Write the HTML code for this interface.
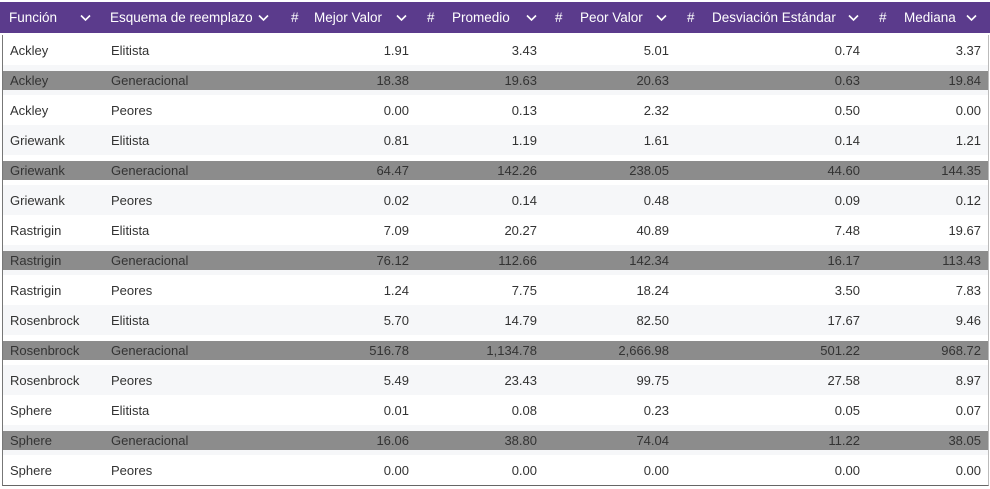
<!DOCTYPE html>
<html><head><meta charset="utf-8">
<style>
body{margin:0;width:990px;height:489px;background:#fff;font-family:"Liberation Sans",sans-serif;overflow:hidden;position:relative}
.hdr{position:absolute;left:0;top:2px;width:990px;height:31px;background:#5b3b8c;color:#fff;font-size:13.5px}
.hdr span{position:absolute;top:8px;white-space:nowrap}
.hdr svg{position:absolute;top:12px;width:11px;height:8px}
.tbl{position:absolute;left:2px;top:35px;width:985px;height:450px;border-left:1px solid #777;border-right:1px solid #bbb;border-bottom:1px solid #666}
.row{position:absolute;left:0;width:985px;height:30px;font-size:13px;color:#333}
.row.alt{background:#f6f7f9}
.band{position:absolute;left:0;width:985px;top:6px;height:19px;background:#8c8c8c}
.row span{position:absolute;top:8px;white-space:nowrap}
.r{text-align:right}
</style></head><body>
<div class="hdr">
<span style="left:9px">Función</span><svg style="left:80px" viewBox="0 0 11 8"><path d="M1 1.5L5.5 6L10 1.5" stroke="#fff" stroke-width="1.6" fill="none"/></svg>
<span style="left:110px">Esquema de reemplazo</span><svg style="left:258px" viewBox="0 0 11 8"><path d="M1 1.5L5.5 6L10 1.5" stroke="#fff" stroke-width="1.6" fill="none"/></svg>
<span style="left:291px">#</span><span style="left:314px">Mejor Valor</span><svg style="left:396px" viewBox="0 0 11 8"><path d="M1 1.5L5.5 6L10 1.5" stroke="#fff" stroke-width="1.6" fill="none"/></svg>
<span style="left:427px">#</span><span style="left:452px">Promedio</span><svg style="left:526px" viewBox="0 0 11 8"><path d="M1 1.5L5.5 6L10 1.5" stroke="#fff" stroke-width="1.6" fill="none"/></svg>
<span style="left:555px">#</span><span style="left:580px">Peor Valor</span><svg style="left:656px" viewBox="0 0 11 8"><path d="M1 1.5L5.5 6L10 1.5" stroke="#fff" stroke-width="1.6" fill="none"/></svg>
<span style="left:687px">#</span><span style="left:712px">Desviación Estándar</span><svg style="left:848px" viewBox="0 0 11 8"><path d="M1 1.5L5.5 6L10 1.5" stroke="#fff" stroke-width="1.6" fill="none"/></svg>
<span style="left:879px">#</span><span style="left:904px">Mediana</span><svg style="left:966px" viewBox="0 0 11 8"><path d="M1 1.5L5.5 6L10 1.5" stroke="#fff" stroke-width="1.6" fill="none"/></svg>
</div>
<div class="tbl" id="tbl"></div>
<script>
const funcs=["Ackley","Ackley","Ackley","Griewank","Griewank","Griewank","Rastrigin","Rastrigin","Rastrigin","Rosenbrock","Rosenbrock","Rosenbrock","Sphere","Sphere","Sphere"];
const schemes=["Elitista","Generacional","Peores","Elitista","Generacional","Peores","Elitista","Generacional","Peores","Elitista","Generacional","Peores","Elitista","Generacional","Peores"];
const mejor=["1.91","18.38","0.00","0.81","64.47","0.02","7.09","76.12","1.24","5.70","516.78","5.49","0.01","16.06","0.00"];
const promedio=["3.43","19.63","0.13","1.19","142.26","0.14","20.27","112.66","7.75","14.79","1,134.78","23.43","0.08","38.80","0.00"];
const peor=["5.01","20.63","2.32","1.61","238.05","0.48","40.89","142.34","18.24","82.50","2,666.98","99.75","0.23","74.04","0.00"];
const desv=["0.74","0.63","0.50","0.14","44.60","0.09","7.48","16.17","3.50","17.67","501.22","27.58","0.05","11.22","0.00"];
const mediana=["3.37","19.84","0.00","1.21","144.35","0.12","19.67","113.43","7.83","9.46","968.72","8.97","0.07","38.05","0.00"];
const tbl=document.getElementById('tbl');
for(let i=0;i<funcs.length;i++){
 const row=document.createElement('div');
 
 
 row.className='row'+(i%2?' alt':'');
 row.style.top=(i*30)+'px';
 let h='';
 if(schemes[i]==='Generacional')h+='<div class="band"></div>';
 h+='<span style="left:7px">'+funcs[i]+'</span><span style="left:108px">'+schemes[i]+'</span>';
 const cols=[[mejor,406],[promedio,534],[peor,666],[desv,857],[mediana,978]];
 for(const [arr,right] of cols)h+='<span class="r" style="right:'+(985-right)+'px">'+arr[i]+'</span>';
 row.innerHTML=h;
 tbl.appendChild(row);
}
</script>
</body></html>
